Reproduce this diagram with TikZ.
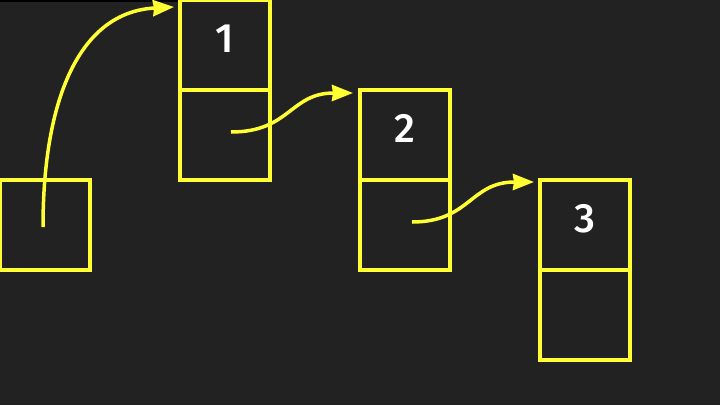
\documentclass[tikz,border=0pt]{standalone}
\usepackage{fontspec}
\setmainfont{Fira Sans}[UprightFont={* Medium}]
\usetikzlibrary{arrows.meta}
\definecolor{bg}{HTML}{222222}
\definecolor{ylw}{RGB}{255,255,51}
\tikzset{
  cell/.style={draw=ylw, line width=3.2pt, minimum width=90pt, minimum height=90pt, inner sep=0pt, outer sep=0pt,
    text=white, font=\fontsize{41}{44}\selectfont, text height=28pt, text depth=14pt},
  link/.style={draw=ylw, line width=3.5pt, -{Stealth[length=21pt,width=16pt,inset=1pt]}}
}
\begin{document}
\begin{tikzpicture}[x=1pt,y=-1pt]
\useasboundingbox (0,0) rectangle (720,405);
\fill[bg] (0,0) rectangle (720,405);
\fill[black] (0,0) rectangle (179,1.5);
\node[cell] (b0) at (45,225) {};
\node[cell] (n1a) at (225,45) {1};
\node[cell] (n1b) at (225,135) {};
\node[cell] (n2a) at (405,135) {2};
\node[cell] (n2b) at (405,225) {};
\node[cell] (n3a) at (585,225) {3};
\node[cell] (n3b) at (585,315) {};
\coordinate (s0) at ([shift={(-2,2)}]b0.center);
\coordinate (t1) at ([shift={(-6,7)}]n1a.north west);
\coordinate (s1) at ([shift={(6,-3)}]n1b.center);
\coordinate (t2) at ([shift={(-7,3)}]n2a.north west);
\coordinate (s2) at ([shift={(7,-3)}]n2b.center);
\coordinate (t3) at ([shift={(-6,2)}]n3a.north west);
\draw[link] (s0) .. controls ([yshift=127]s0) and ([xshift=-95,yshift=-5]t1) .. (t1);
\draw[link] (s1) .. controls ([xshift=59]s1) and ([xshift=-63]t2) .. (t2);
\draw[link] (s2) .. controls ([xshift=58]s2) and ([xshift=-64]t3) .. (t3);
\end{tikzpicture}
\end{document}
